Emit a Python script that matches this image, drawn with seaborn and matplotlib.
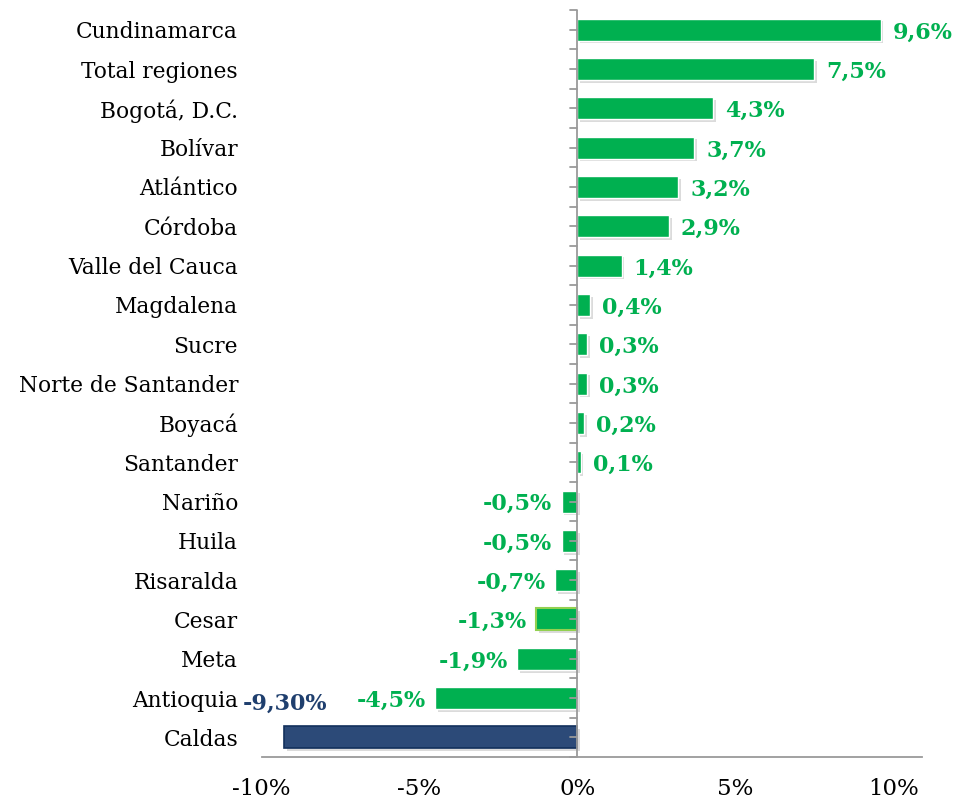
import matplotlib
matplotlib.use('Agg')
import matplotlib.pyplot as plt
import matplotlib.patheffects as pe
import seaborn as sns
import numpy as np

regions = ['Cundinamarca', 'Total regiones', 'Bogotá, D.C.', 'Bolívar', 'Atlántico',
           'Córdoba', 'Valle del Cauca', 'Magdalena', 'Sucre', 'Norte de Santander',
           'Boyacá', 'Santander', 'Nariño', 'Huila', 'Risaralda', 'Cesar', 'Meta',
           'Antioquia', 'Caldas']
values = [9.6, 7.5, 4.3, 3.7, 3.2, 2.9, 1.4, 0.4, 0.3, 0.3, 0.2, 0.1,
          -0.5, -0.5, -0.7, -1.3, -1.9, -4.5, -9.3]
labels = ['9,6%', '7,5%', '4,3%', '3,7%', '3,2%', '2,9%', '1,4%', '0,4%', '0,3%', '0,3%',
          '0,2%', '0,1%', '-0,5%', '-0,5%', '-0,7%', '-1,3%', '-1,9%', '-4,5%', '-9,30%']
highlight = 'Caldas'

green = '#00B050'
navy_fill = '#2C4A78'
navy_text = '#1F3F6E'
grey = '#9a9a9a'

sns.set_style('white')
plt.rcParams['font.family'] = ['DejaVu Serif']

fig = plt.figure(figsize=(9.55, 8.02), dpi=100)
ax = fig.add_axes([0.274, 0.056, 0.691, 0.9315])

colors = [navy_fill if r == highlight else green for r in regions]
sns.barplot(x=values, y=regions, hue=regions, palette=colors, legend=False,
            orient='h', width=0.56, saturation=1, ax=ax)

shadow = [pe.SimplePatchShadow(offset=(2, -2), shadow_rgbFace='#b0b0b0', alpha=0.45), pe.Normal()]
for p, r in zip(ax.patches, regions):
    p.set_path_effects(shadow)
    if r == highlight:
        p.set_edgecolor('#12305C')
        p.set_linewidth(1.2)
    elif r == 'Cesar':
        p.set_edgecolor('#92D050')
        p.set_linewidth(1.5)

ax.set_xlim(-10, 10.9)
ax.set_ylim(len(regions) - 0.5, -0.5)
ax.set_xticks([-10, -5, 0, 5, 10])
ax.set_xticklabels(['-10%', '-5%', '0%', '5%', '10%'], fontsize=16.5)

for s in ['top', 'right', 'left']:
    ax.spines[s].set_visible(False)
ax.spines['bottom'].set_color(grey)
ax.spines['bottom'].set_linewidth(1.3)
ax.axvline(0, color=grey, lw=1.3, zorder=5)
ax.tick_params(axis='x', direction='out', length=6, color=grey, width=1.3, pad=9, labelcolor='black')
ax.tick_params(axis='y', length=0, pad=17, labelsize=15.7, labelcolor='black')
ax.set_ylabel('')

# tick marks on the zero axis
for i in range(len(regions) + 1):
    ax.plot([-0.25, 0], [i - 0.5, i - 0.5], color=grey, lw=1.3, zorder=5, clip_on=False)
for i in range(len(regions)):
    ax.plot([-0.22, 0], [i, i], color=grey, lw=1.3, zorder=5, clip_on=False)

for i, (v, lab, r) in enumerate(zip(values, labels, regions)):
    if r == highlight:
        ax.text(v + 0.05, i - 0.85, lab, ha='center', va='center', color=navy_text,
                fontsize=16, fontweight='bold')
    elif v >= 0:
        ax.text(v + 0.38, i + 0.07, lab, ha='left', va='center', color=green,
                fontsize=16, fontweight='bold')
    else:
        ax.text(v - 0.3, i + 0.07, lab, ha='right', va='center', color=green,
                fontsize=16, fontweight='bold')

fig.savefig('out.png', dpi=100)
